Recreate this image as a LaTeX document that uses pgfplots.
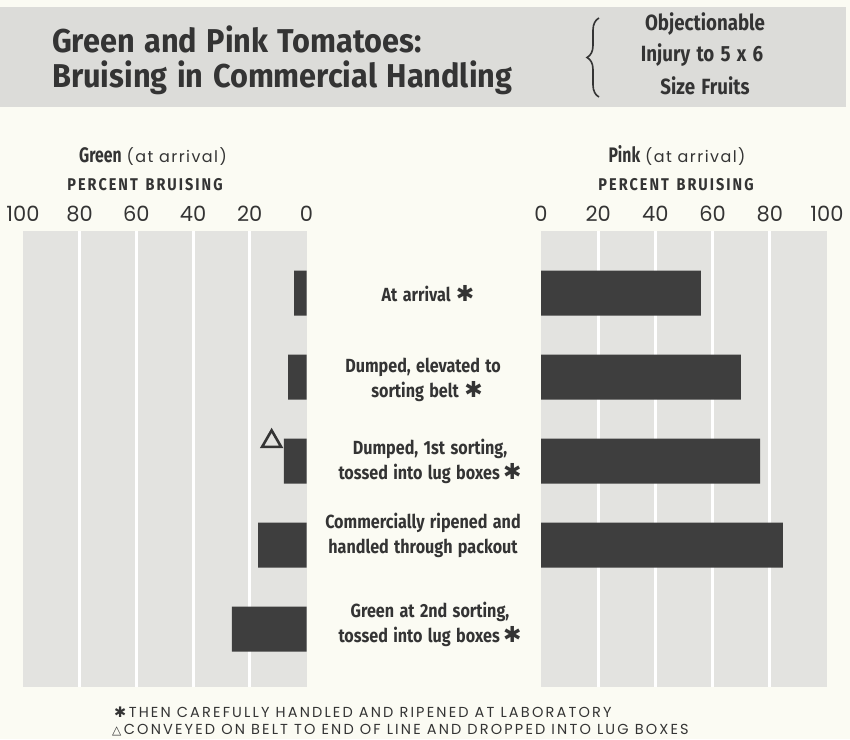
\documentclass[border=0pt]{standalone}
\usepackage{fontspec}
\setmainfont{Poppins}
\newfontfamily\titlef{Fira Sans}[FakeStretch=0.93, WordSpace=1.3]
\newfontfamily\cond{Fira Sans}[FakeStretch=0.85, WordSpace=1.4]
\newfontfamily\condn{Fira Sans}[FakeStretch=0.75]
\newfontfamily\condls{Fira Sans}[FakeStretch=0.85, LetterSpace=12, WordSpace=1.4]
\newfontfamily\footf{Poppins}[LetterSpace=15]
\newfontfamily\arrf{Poppins}[LetterSpace=9]
\newfontfamily\symf{DejaVu Sans}
\usepackage{pgfplots}
\pgfplotsset{compat=1.18}
\usetikzlibrary{decorations.pathreplacing}

\definecolor{bg}{RGB}{251,251,243}
\definecolor{panel}{RGB}{227,227,224}
\definecolor{banner}{RGB}{220,220,217}
\definecolor{ink}{RGB}{52,52,52}
\definecolor{barc}{RGB}{62,62,62}

\newcommand{\st}{{\symf\fontsize{22}{22}\selectfont ✱}}

\pgfplotsset{
  panelaxis/.style={
    scale only axis, height=456pt,
    xmin=0, xmax=100, ymin=-0.74, ymax=4.69, y dir=reverse,
    axis line style={draw=none}, axis background/.style={fill=panel},
    xtick={20,40,60,80}, extra x ticks={0,100},
    extra x tick style={grid=none},
    xmajorgrids, grid style={white, line width=3pt},
    major tick length=0pt, ytick=\empty,
    xticklabel pos=upper,
    xticklabel style={font=\fontsize{21}{21}\selectfont, text=ink, inner sep=0pt, yshift=9pt},
    /pgf/number format/assume math mode=true,
    clip=false,
  },
}

\begin{document}
\begin{tikzpicture}
% page coordinates: 1pt per pixel, measured from the top
\begin{scope}[x=1pt, y=-1pt, shift={(0pt,739pt)}]
\fill[bg] (0,0) rectangle (850,739);
\fill[banner] (0,7) rectangle (846,107);

% title block
\node[anchor=base west, inner sep=0, text=ink, font=\titlef\bfseries\fontsize{33}{35}\selectfont] at (52,53) {Green and Pink Tomatoes:};
\node[anchor=base west, inner sep=0, text=ink, font=\titlef\bfseries\fontsize{33}{35}\selectfont] at (52,88) {Bruising in Commercial Handling};
\draw[ink, line width=1.6pt, decorate, decoration={brace, amplitude=12pt}] (599,97) -- (599,18);
\begin{scope}[every node/.style={text=ink, font=\cond\bfseries\fontsize{22}{22}\selectfont}]
\node at (705,24) {Objectionable};
\node at (702,55) {Injury to 5 x 6};
\node at (705,86) {Size Fruits};
\end{scope}

% axis titles
\node[anchor=base, inner sep=0, text=ink] at (153,163) {{\condn\bfseries\fontsize{21}{21}\selectfont Green}\hspace{5pt}{\arrf\fontsize{16}{16}\selectfont (at arrival)}};
\node[anchor=base, inner sep=0, text=ink, font=\condls\bfseries\fontsize{17}{17}\selectfont] at (145,191) {PERCENT BRUISING};
\node[anchor=base, inner sep=0, text=ink] at (677,163) {{\condn\bfseries\fontsize{21}{21}\selectfont Pink}\hspace{5pt}{\arrf\fontsize{16}{16}\selectfont (at arrival)}};
\node[anchor=base, inner sep=0, text=ink, font=\condls\bfseries\fontsize{17}{17}\selectfont] at (676,191) {PERCENT BRUISING};

% stage labels
\begin{scope}[every node/.style={align=center, text=ink, font=\cond\bfseries\fontsize{19}{25}\selectfont}]
\node at (428,293.5) {At arrival \st};
\node at (423,379.5) {Dumped, elevated to\\\hspace{8pt}sorting belt \st};
\node at (430,461.5) {Dumped, 1st sorting,\hspace{22pt}\\tossed into lug boxes\,\st};
\node at (423,535.5) {Commercially ripened and\\handled through packout};
\node at (430,624.5) {Green at 2nd sorting,\hspace{22pt}\\tossed into lug boxes\,\st};
\end{scope}

% footnotes
\node[anchor=base west, inner sep=0, text=ink, font=\footf\fontsize{14.5}{14.5}\selectfont] at (114,717) {{\symf ✱}\,THEN CAREFULLY HANDLED AND RIPENED AT LABORATORY};
\node[anchor=base west, inner sep=0, text=ink, font=\footf\fontsize{14.5}{14.5}\selectfont] at (112,734) {{\symf\fontsize{12}{12}\selectfont △}\,CONVEYED ON BELT TO END OF LINE AND DROPPED INTO LUG BOXES};
\end{scope}

% green (panel bottom at 687 px from the top = 52pt from the bottom)
\begin{axis}[panelaxis, at={(23pt,52pt)}, anchor=south west, width=283.5pt, x dir=reverse]
\addplot[xbar, bar width=45pt, fill=barc, draw=none] coordinates {(4.4,0) (6.5,1) (8.0,2) (17.1,3) (26.3,4)};
\addplot[only marks, mark=triangle, mark size=11pt, mark options={draw=ink, line width=2.6pt, fill=none}] coordinates {(12.3,1.765)};
\end{axis}

% pink
\begin{axis}[panelaxis, at={(541pt,52pt)}, anchor=south west, width=286pt]
\addplot[xbar, bar width=45pt, fill=barc, draw=none] coordinates {(55.9,0) (69.9,1) (76.6,2) (84.6,3)};
\end{axis}
\end{tikzpicture}
\end{document}
